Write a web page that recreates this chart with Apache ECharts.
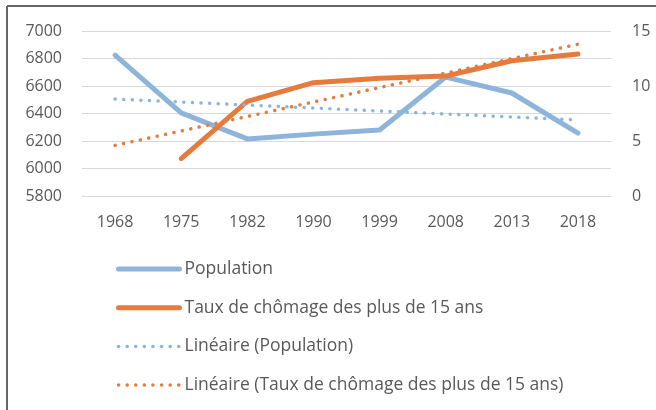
<!DOCTYPE html>
<html>
<head>
<meta charset="utf-8">
<script src="https://cdn.jsdelivr.net/npm/echarts@6/dist/echarts.min.js"></script>
<style>
  html, body { margin: 0; padding: 0; background: #fff; }
  #chart { width: 656px; height: 410px; }
</style>
</head>
<body>
<div id="chart"></div>
<script>
// annees
const years = ["1968", "1975", "1982", "1990", "1999", "2008", "2013", "2018"];
// population (axe de gauche)
const population = [6825, 6404, 6215, 6250, 6280, 6665, 6549, 6258];
// taux de chomage (axe de droite)
const chomage = [null, 3.4, 8.6, 10.3, 10.7, 10.9, 12.3, 12.9];
// courbes de tendance (extremites seulement)
const tendancePop = [6505, null, null, null, null, null, null, 6353];
const tendanceChomage = [4.6, null, null, null, null, null, null, 13.8];

const blue = "#8EB4DB";
const orange = "#E57B3C";
const txt = "#595959";
const font = "'Open Sans', sans-serif";
const dots = [0.1, 8.5];

const chart = echarts.init(document.getElementById("chart"));
const option = {
  animation: false,
  grid: { left: 82, right: 45, top: 31, bottom: 214 },
  graphic: [
    { type: "line", shape: { x1: 7, y1: 6, x2: 656, y2: 6 }, style: { stroke: "#666", lineWidth: 2 } },
    { type: "line", shape: { x1: 7, y1: 6, x2: 7, y2: 410 }, style: { stroke: "#666", lineWidth: 2 } }
  ],
  legend: {
    orient: "vertical",
    left: 111,
    top: 255,
    itemWidth: 61,
    itemHeight: 12,
    itemGap: 20.7,
    itemStyle: { opacity: 0 },
    textStyle: { color: txt, fontSize: 17.5, fontFamily: font },
    data: [
      { name: "Population", lineStyle: { width: 5 } },
      { name: "Taux de chômage des plus de 15 ans", lineStyle: { width: 5 } },
      { name: "Linéaire (Population)", lineStyle: { width: 3.5 } },
      { name: "Linéaire (Taux de chômage des plus de 15 ans)", lineStyle: { width: 3.5 } }
    ]
  },
  xAxis: {
    type: "category",
    data: years,
    boundaryGap: true,
    axisLine: { show: false },
    axisTick: { show: false },
    axisLabel: { color: txt, fontSize: 16, fontFamily: font, margin: 18 }
  },
  yAxis: [
    {
      type: "value",
      min: 5800, max: 7000, interval: 200,
      axisLine: { show: false },
      axisTick: { show: false },
      axisLabel: { color: txt, fontSize: 16, fontFamily: font, margin: 20, formatter: v => String(v) },
      splitLine: { lineStyle: { color: "#D9D9D9", width: 1 } }
    },
    {
      type: "value",
      min: 0, max: 15, interval: 5,
      axisLine: { show: false },
      axisTick: { show: false },
      axisLabel: { color: txt, fontSize: 16, fontFamily: font, margin: 21 },
      splitLine: { show: false }
    }
  ],
  series: [
    {
      name: "Population",
      type: "line",
      yAxisIndex: 0,
      data: population,
      symbol: "none",
      lineStyle: { color: blue, width: 5, cap: "round", join: "round" },
      itemStyle: { color: blue }
    },
    {
      name: "Taux de chômage des plus de 15 ans",
      type: "line",
      yAxisIndex: 1,
      data: chomage,
      symbol: "none",
      lineStyle: { color: orange, width: 5, cap: "round", join: "round" },
      itemStyle: { color: orange }
    },
    {
      name: "Linéaire (Population)",
      type: "line",
      yAxisIndex: 0,
      data: tendancePop,
      connectNulls: true,
      symbol: "none",
      lineStyle: { color: blue, width: 3.5, type: dots, cap: "round" },
      itemStyle: { color: blue }
    },
    {
      name: "Linéaire (Taux de chômage des plus de 15 ans)",
      type: "line",
      yAxisIndex: 1,
      data: tendanceChomage,
      connectNulls: true,
      symbol: "none",
      lineStyle: { color: orange, width: 3.5, type: dots, cap: "round" },
      itemStyle: { color: orange }
    }
  ]
};
chart.setOption(option);
</script>
</body>
</html>
